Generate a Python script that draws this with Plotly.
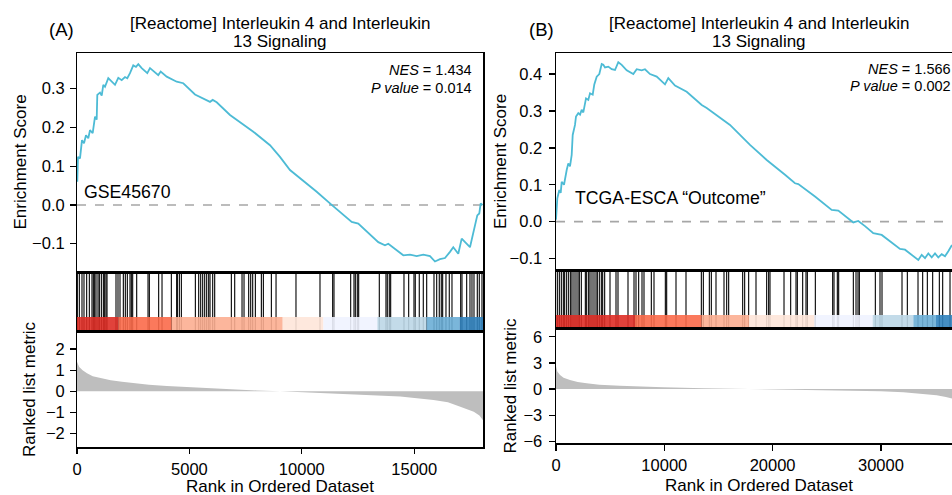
import plotly.graph_objects as go

W, H = 952, 495
FONT = "Liberation Sans, Arial, sans-serif"

# ---------------- data: panel A (GSE45670) ----------------
A_es_rank = [13, 44, 133, 222, 311, 400, 503, 578, 698, 801, 876, 903, 1023, 1099, 1170, 1245,
             1392, 1543, 1690, 1837, 1988, 2135, 2237, 2357, 2504, 2624, 2727, 2878, 3127, 3247,
             3394, 3616, 3723, 3990, 4435, 4728, 5249, 5547, 5916, 6036, 6214, 6806, 7397, 7842,
             8585, 9029, 9474, 10662, 11329, 12219, 12512, 13402, 13700, 13847, 14514, 14812,
             15110, 15404, 15701, 15924, 16146, 16369, 16591, 16738, 16960, 17112, 17481, 17601,
             17703, 17806, 17895, 17957, 18040]
A_es = [0.06, 0.124, 0.12, 0.167, 0.159, 0.18, 0.172, 0.193, 0.185, 0.228, 0.22, 0.284, 0.29,
        0.282, 0.31, 0.305, 0.327, 0.318, 0.31, 0.328, 0.322, 0.33, 0.327, 0.34, 0.36, 0.356,
        0.363, 0.353, 0.34, 0.353, 0.346, 0.335, 0.344, 0.331, 0.318, 0.314, 0.285, 0.277,
        0.266, 0.271, 0.265, 0.232, 0.208, 0.189, 0.154, 0.124, 0.09, 0.034, 0.0, -0.044,
        -0.048, -0.096, -0.104, -0.1, -0.13, -0.128, -0.132, -0.128, -0.132, -0.146, -0.14,
        -0.137, -0.121, -0.109, -0.126, -0.087, -0.109, -0.078, -0.057, -0.027, -0.022, 0.004, 0.0]
A_hits = [15, 104, 222, 311, 430, 549, 667, 727, 786, 845, 934, 994, 1083, 1172, 1231, 1290,
          1335, 1735, 1824, 1913, 2061, 2150, 2239, 2358, 2417, 2477, 2655, 3159, 3218, 3633,
          3782, 4197, 4434, 4464, 4553, 4642, 5265, 5413, 5502, 5591, 5680, 5769, 5858, 5917,
          6036, 6125, 6866, 7015, 7341, 7430, 7637, 7726, 7815, 7934, 8201, 8290, 8646, 8854,
          9741, 10809, 11373, 11431, 12174, 12321, 12380, 12468, 12530, 13447, 13744, 13802,
          13891, 13953, 14545, 14754, 14990, 15047, 15225, 15404, 15555, 15880, 16000, 16115,
          16204, 16266, 16413, 16560, 16680, 17067, 17125, 17334, 17481, 17570, 17659, 17806,
          17895, 18014]
A_band_edges = [0, 1850, 4210, 9150, 10960, 13360, 15550, 17010, 18060]
A_metric_rank = [0, 100, 250, 445, 700, 1040, 1500, 2000, 2520, 3200, 4000, 5490, 6970, 8000,
                 9040, 10000, 11400, 12900, 14380, 15860, 16500, 17050, 17650, 17900, 18060]
A_metric = [1.4, 1.15, 1.0, 0.86, 0.72, 0.62, 0.52, 0.45, 0.38, 0.31, 0.25, 0.16, 0.08, 0.04,
            0.0, -0.04, -0.1, -0.17, -0.25, -0.41, -0.52, -0.73, -0.97, -1.15, -1.37]
A_max_rank = 18060
A_title = ["[Reactome] Interleukin 4 and Interleukin", "13 Signaling"]
A_nes = "<i>NES</i> = 1.434"
A_p = "<i>P value</i> = 0.014"
A_label = "GSE45670"

# ---------------- data: panel B (TCGA-ESCA) ----------------
B_es_rank = [0, 120, 305, 434, 526, 739, 988, 1136, 1293, 1450, 1542, 1754, 1847, 2059, 2216,
             2373, 2521, 2770, 2983, 3140, 3389, 3537, 3758, 3998, 4220, 4368, 4525, 4829, 5143,
             5448, 5753, 6067, 6528, 7138, 7452, 7914, 8218, 8680, 9299, 10065, 10370, 10988,
             12069, 13454, 13916, 16067, 17914, 19456, 21146, 22069, 22374, 23149, 23916, 25458,
             26067, 27452, 27914, 28532, 29299, 30075, 31765, 32227, 33455, 33769, 34074, 34379,
             34692, 34997, 35302, 35615, 35920, 36225, 36566]
B_es = [0.005, 0.063, 0.086, 0.078, 0.108, 0.1, 0.14, 0.158, 0.15, 0.181, 0.235, 0.262, 0.285,
        0.294, 0.29, 0.303, 0.296, 0.334, 0.33, 0.348, 0.344, 0.372, 0.393, 0.4, 0.427, 0.425,
        0.418, 0.42, 0.413, 0.411, 0.432, 0.425, 0.41, 0.4, 0.413, 0.41, 0.413, 0.4, 0.393,
        0.372, 0.389, 0.369, 0.352, 0.316, 0.308, 0.262, 0.208, 0.167, 0.127, 0.104, 0.102,
        0.086, 0.068, 0.032, 0.03, -0.002, 0.002, -0.012, -0.031, -0.036, -0.074, -0.076,
        -0.104, -0.09, -0.099, -0.086, -0.097, -0.086, -0.097, -0.088, -0.094, -0.08, -0.063]
B_hits = [123, 308, 492, 677, 800, 985, 1170, 1354, 1477, 1662, 1847, 2031, 2155, 2339, 2709,
          2832, 3016, 3140, 3324, 3509, 3694, 3817, 4001, 4186, 4309, 4494, 4986, 5540, 5725,
          6648, 7203, 7387, 7633, 7941, 8126, 8803, 9049, 10096, 10219, 11081, 12004, 13420,
          13605, 14159, 14343, 14774, 15513, 15759, 15944, 17237, 17421, 17790, 18468, 19453,
          19637, 19760, 21054, 21669, 22162, 22285, 22777, 23085, 23208, 23947, 25547, 25670,
          25978, 26101, 27456, 27702, 27887, 28010, 29487, 29918, 30103, 31950, 32442, 33427,
          33858, 34289, 34781, 35397, 35705, 36382]
B_band_edges = [0, 7295, 13451, 17821, 23854, 29241, 32996, 35089, 37490]
B_metric_rank = [0, 120, 370, 700, 1290, 2000, 2830, 4000, 5900, 8000, 9900, 13600, 18200,
                 22800, 27450, 30000, 32070, 34000, 35150, 36000, 36566]
B_metric = [2.6, 2.0, 1.6, 1.3, 1.04, 0.8, 0.65, 0.5, 0.38, 0.27, 0.19, 0.08, 0.0, -0.08,
            -0.19, -0.26, -0.38, -0.55, -0.7, -0.9, -1.08]
B_visible_rank = 36566
B_title = ["[Reactome] Interleukin 4 and Interleukin", "13 Signaling"]
B_nes = "<i>NES</i> = 1.566"
B_p = "<i>P value</i> = 0.002"
B_label = "TCGA-ESCA \u201cOutcome\u201d"

band_colors = ["#DE2D26", "#FB6A4A", "#FCAE91", "#FEE5D9", "#EFF3FF", "#BDD7E7", "#6BAED6", "#3182BD"]
ES_COLOR = "#4DBBD5"


def px(x):
    return x / W


def py(y):
    return 1 - y / H


fig = go.Figure()
shapes = []
annotations = []
layout_axes = {}

panels = [
    dict(tag="(A)", tagx=61.7, n=1, left=77, width=406, es_y=(53, 272), gene_y=(272, 331),
         band_frac=(331 - 317) / (331 - 272), met_y=(331, 447),
         xrange=[0, A_max_rank], es_range=[-0.173, 0.392], es_ticks=[-0.1, 0.0, 0.1, 0.2, 0.3],
         met_range=[-2.64, 2.86], met_ticks=[-2, -1, 0, 1, 2], xticks=[0, 5000, 10000, 15000],
         es_rank=A_es_rank, es_val=A_es, hits=A_hits, edges=A_band_edges,
         mrank=A_metric_rank, metric=A_metric, mirror=True, ticklen=5.5, standoff=2,
         title=A_title, nes=A_nes, p=A_p, label=A_label, label_xy=(81.7, 191.7),
         nes_x=474, nes_y=(70, 87.5), es_tx=20, met_tx=29, rank_ty=486.3, xmax_line=A_max_rank),
    dict(tag="(B)", tagx=541.7, n=4, left=556, width=406, es_y=(53, 270), gene_y=(270, 328),
         band_frac=(328 - 315) / (328 - 270), met_y=(328, 443),
         xrange=[0, B_visible_rank], es_range=[-0.131, 0.457], es_ticks=[-0.1, 0.0, 0.1, 0.2, 0.3, 0.4],
         met_range=[-6.19, 7.0], met_ticks=[-6, -3, 0, 3, 6], xticks=[0, 10000, 20000, 30000],
         es_rank=B_es_rank, es_val=B_es, hits=B_hits, edges=B_band_edges,
         mrank=B_metric_rank, metric=B_metric, mirror=False, ticklen=6, standoff=3,
         title=B_title, nes=B_nes, p=B_p, label=B_label, label_xy=(573.3, 198.3),
         nes_x=952.5, nes_y=(68.5, 86), es_tx=500.5, met_tx=510, rank_ty=485.3, xmax_line=B_visible_rank),
]

LINE_W = 1.5
tickfont = dict(family=FONT, size=16.5, color="black")

for P in panels:
    n = P["n"]
    ids = [n, n + 1, n + 2]
    xs = ["x" if i == 1 else f"x{i}" for i in ids]
    ys = ["y" if i == 1 else f"y{i}" for i in ids]
    right = P["left"] + P["width"]
    xdom = [px(P["left"]), min(1.0, px(right))]
    ydoms = [[py(P["es_y"][1]), py(P["es_y"][0])],
             [py(P["gene_y"][1]), py(P["gene_y"][0])],
             [py(P["met_y"][1]), py(P["met_y"][0])]]
    for k in range(3):
        xname = "xaxis" if ids[k] == 1 else f"xaxis{ids[k]}"
        yname = "yaxis" if ids[k] == 1 else f"yaxis{ids[k]}"
        xa = dict(domain=xdom, anchor=ys[k], range=P["xrange"], showgrid=False, zeroline=False,
                  showline=True, linecolor="black", linewidth=LINE_W, mirror=True,
                  automargin=False, fixedrange=True)
        ya = dict(domain=ydoms[k], anchor=xs[k], showgrid=False, zeroline=False,
                  showline=True, linecolor="black", linewidth=LINE_W, mirror=P["mirror"],
                  automargin=False, fixedrange=True)
        if k == 2:
            xa.update(ticks="outside", ticklen=P["ticklen"], tickwidth=1.3, tickcolor="black",
                      tickvals=P["xticks"], tickformat="d", tickfont=tickfont, ticklabelstandoff=1)
        else:
            xa.update(showticklabels=False, ticks="")
        if k == 0:
            ya.update(range=P["es_range"], tickvals=P["es_ticks"], tickformat=".1f", ticks="outside",
                      ticklen=P["ticklen"], tickwidth=1.3, tickcolor="black", tickfont=tickfont,
                      ticklabelstandoff=P["standoff"])
        elif k == 1:
            ya.update(range=[0, 1], showticklabels=False, ticks="")
        else:
            ya.update(range=P["met_range"], tickvals=P["met_ticks"], tickformat="d", ticks="outside",
                      ticklen=P["ticklen"], tickwidth=1.3, tickcolor="black", tickfont=tickfont,
                      ticklabelstandoff=P["standoff"])
        layout_axes[xname] = xa
        layout_axes[yname] = ya

    # zero dashed line in ES panel
    fig.add_trace(go.Scatter(x=[0, P["xmax_line"]], y=[0, 0], mode="lines",
                             line=dict(color="#A6A6A6", width=1.6, dash="dash"),
                             xaxis=xs[0], yaxis=ys[0], hoverinfo="skip", showlegend=False))
    # ES curve
    fig.add_trace(go.Scatter(x=P["es_rank"], y=P["es_val"], mode="lines",
                             line=dict(color=ES_COLOR, width=1.8),
                             xaxis=xs[0], yaxis=ys[0], showlegend=False))
    # hit lines
    for h in P["hits"]:
        shapes.append(dict(type="line", xref=xs[1], yref=ys[1], x0=h, x1=h, y0=0, y1=1,
                           line=dict(color="black", width=1.1), layer="below"))
    # colour band
    for i in range(len(P["edges"]) - 1):
        shapes.append(dict(type="rect", xref=xs[1], yref=ys[1], x0=P["edges"][i], x1=P["edges"][i + 1],
                           y0=0, y1=P["band_frac"], fillcolor=band_colors[i], opacity=0.9,
                           line=dict(width=0), layer="below"))
    # ranked list metric
    fig.add_trace(go.Scatter(x=P["mrank"], y=P["metric"], mode="lines", fill="tozeroy",
                             fillcolor="#BEBEBE", line=dict(width=0, color="#BEBEBE"),
                             xaxis=xs[2], yaxis=ys[2], showlegend=False))

    cx = P["left"] + P["width"] / 2
    annotations += [
        dict(text=P["title"][0], x=px(cx), y=py(23.5), xref="paper", yref="paper",
             xanchor="center", yanchor="middle", showarrow=False, font=dict(family=FONT, size=17)),
        dict(text=P["title"][1], x=px(cx), y=py(42.0), xref="paper", yref="paper",
             xanchor="center", yanchor="middle", showarrow=False, font=dict(family=FONT, size=17)),
        dict(text=P["tag"], x=px(P["tagx"]), y=py(30), xref="paper", yref="paper",
             xanchor="center", yanchor="middle", showarrow=False, font=dict(family=FONT, size=18.5)),
        dict(text=P["nes"], x=px(P["nes_x"]), y=py(P["nes_y"][0]), xref="paper", yref="paper",
             xanchor="right", yanchor="middle", showarrow=False, font=dict(family=FONT, size=14.5)),
        dict(text=P["p"], x=px(P["nes_x"]), y=py(P["nes_y"][1]), xref="paper", yref="paper",
             xanchor="right", yanchor="middle", showarrow=False, font=dict(family=FONT, size=14.5)),
        dict(text=P["label"], x=px(P["label_xy"][0]), y=py(P["label_xy"][1]), xref="paper", yref="paper",
             xanchor="left", yanchor="middle", showarrow=False, font=dict(family=FONT, size=17.7)),
        dict(text="Enrichment Score", x=px(P["es_tx"]), y=py((P["es_y"][0] + P["es_y"][1]) / 2),
             xref="paper", yref="paper", textangle=-90, xanchor="center", yanchor="middle",
             showarrow=False, font=dict(family=FONT, size=17)),
        dict(text="Ranked list metric", x=px(P["met_tx"]), y=py((P["met_y"][0] + P["met_y"][1]) / 2),
             xref="paper", yref="paper", textangle=-90, xanchor="center", yanchor="middle",
             showarrow=False, font=dict(family=FONT, size=17)),
        dict(text="Rank in Ordered Dataset", x=px(cx), y=py(P["rank_ty"]), xref="paper", yref="paper",
             xanchor="center", yanchor="middle", showarrow=False, font=dict(family=FONT, size=17)),
    ]

fig.update_layout(
    width=W, height=H, autosize=False,
    margin=dict(l=0, r=0, t=0, b=0, pad=0),
    paper_bgcolor="white", plot_bgcolor="white",
    font=dict(family=FONT, color="black"),
    showlegend=False,
    shapes=shapes,
    annotations=annotations,
    **layout_axes,
)

# remove the default 8px page margin so the 952x495 figure fills the window exactly
fig.write_html("out.html", config={"displayModeBar": False, "staticPlot": True},
               post_script="document.body.style.margin='0';document.body.style.overflow='hidden';")
